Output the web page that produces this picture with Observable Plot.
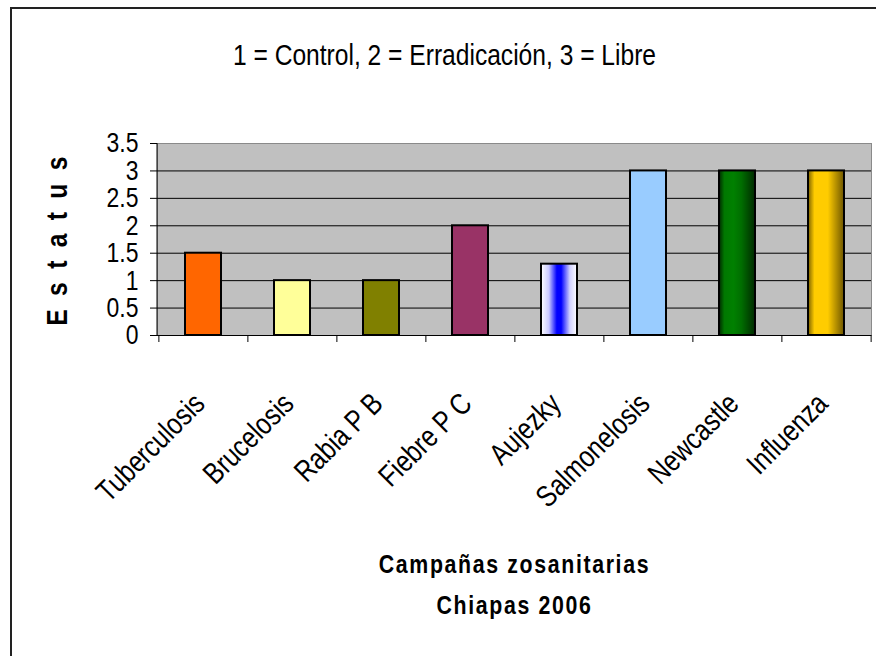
<!DOCTYPE html>
<html><head><meta charset="utf-8">
<script src="https://cdn.jsdelivr.net/npm/d3@7"></script>
<script src="https://cdn.jsdelivr.net/npm/@observablehq/plot@0.6"></script>
<style>
html,body{margin:0;padding:0;background:#fff;overflow:hidden;}
#wrap{position:relative;width:876px;height:656px;overflow:hidden;}
#wrap svg{position:absolute;left:0;top:0;}
#border{position:absolute;left:10px;top:7px;width:900px;height:700px;border:2px solid #222;pointer-events:none;}
.ylab text{letter-spacing:4px;}
.xtitle text{letter-spacing:2px;}
</style></head><body><div id="wrap"></div>
<script>
const categories = ["Tuberculosis","Brucelosis","Rabia P B","Fiebre P C","Aujezky","Salmonelosis","Newcastle","Influenza"];
const values = [1.5, 1, 1, 2, 1.3, 3, 3, 3];
const barFills = ["#FF6600","#FFFF99","#808000","#993366","url(#gAujezky)","#99CCFF","url(#gNewcastle)","url(#gInfluenza)"];
const yTicks = [0, 0.5, 1, 1.5, 2, 2.5, 3, 3.5];
const yTickLabels = ["0","0.5","1","1.5","2","2.5","3","3.5"];
const titleText = "1 = Control, 2 = Erradicación, 3 = Libre";
const yLabel = "E s t a t u s";
const xTitle = ["Campañas zosanitarias", "Chiapas 2006"];

// gradient styles (cylinder-like fills)
const gradientStyles = [
  {id: "gAujezky", stops: [[0,"#ffffff"],[0.22,"#c8c8ff"],[0.44,"#0000ff"],[0.56,"#0000ff"],[0.8,"#d0d0ff"],[1,"#ffffff"]]},
  {id: "gNewcastle", stops: [[0,"#002800"],[0.15,"#007800"],[0.4,"#008000"],[0.62,"#006e00"],[1,"#002a00"]]},
  {id: "gInfluenza", stops: [[0,"#7a6000"],[0.18,"#ffcc00"],[0.55,"#ffcc00"],[1,"#6e5600"]]}
];

const W = 876, H = 656, mL = 157, mR = 5, mT = 143, mB = 321;
const step = (W - mL - mR) / categories.length;
const FONT = "'Liberation Sans',Arial,sans-serif";
const NARROW = 0.82; // emulate Arial Narrow
const ns = "http://www.w3.org/2000/svg";

const data = categories.map((c, i) => ({name: c, value: values[i], fill: barFills[i]}));

function gradientDefs() {
  const defs = document.createElementNS(ns, "defs");
  for (const g of gradientStyles) {
    const lg = document.createElementNS(ns, "linearGradient");
    lg.setAttribute("id", g.id);
    lg.setAttribute("x1", "0"); lg.setAttribute("x2", "1");
    lg.setAttribute("y1", "0"); lg.setAttribute("y2", "0");
    for (const [o, c] of g.stops) {
      const s = document.createElementNS(ns, "stop");
      s.setAttribute("offset", o);
      s.setAttribute("stop-color", c);
      lg.appendChild(s);
    }
    defs.appendChild(lg);
  }
  return defs;
}

function leftAxisLine(index, scales, vals, dims) {
  const l = document.createElementNS(ns, "line");
  const x = dims.marginLeft;
  l.setAttribute("x1", x); l.setAttribute("x2", x);
  l.setAttribute("y1", scales.y(d3.max(yTicks)));
  l.setAttribute("y2", scales.y(0));
  l.setAttribute("stroke", "black");
  l.setAttribute("stroke-width", 1);
  return l;
}

const plot = Plot.plot({
  width: W, height: H,
  marginLeft: mL, marginRight: mR, marginTop: mT, marginBottom: mB,
  style: {fontFamily: FONT, color: "black", background: "transparent"},
  x: {type: "band", domain: categories, paddingInner: 0.6, paddingOuter: 0.3, label: null},
  y: {domain: [0, 3.5], label: null},
  color: {type: "identity"},
  marks: [
    gradientDefs,
    Plot.frame({fill: "#C0C0C0", stroke: "#8a8a8a"}),
    Plot.gridY(yTicks.filter(t => t < 3.5), {stroke: "black", strokeOpacity: 1, strokeWidth: 1}),
    Plot.barY(data, {x: "name", y: "value", fill: "fill", stroke: "black", strokeWidth: 2}),
    leftAxisLine,
    Plot.axisY(yTicks, {tickSize: 7, tickPadding: 12, fontSize: 28, label: null,
      tickFormat: d => yTickLabels[yTicks.indexOf(d)]}),
    Plot.axisX(categories, {tickSize: 7, tickFormat: () => "", dx: -step / 2, label: null}),
    Plot.axisX(categories.slice(-1), {tickSize: 7, tickFormat: () => "", dx: step / 2, label: null}),
    Plot.text(categories, {x: d => d, frameAnchor: "bottom", rotate: -45, textAnchor: "end",
      lineAnchor: "bottom", dx: 3, dy: 70, fontSize: 30}),
    Plot.text([titleText], {frameAnchor: "top", dx: -70, dy: -79, lineAnchor: "bottom", fontSize: 30}),
    Plot.text([yLabel], {frameAnchor: "left", rotate: -90, textAnchor: "middle", dx: -100, fontSize: 30,
      fontWeight: "bold", className: "ylab"}),
    Plot.text([xTitle.join("\n")], {frameAnchor: "bottom", dy: 278, lineAnchor: "bottom", lineHeight: 1.54,
      fontSize: 26, fontWeight: "bold", className: "xtitle"})
  ]
});

// condense every text horizontally (along its own direction), like Arial Narrow
for (const t of plot.querySelectorAll("text")) {
  const tr = t.getAttribute("transform") || "";
  t.setAttribute("transform", (tr + ` scale(${NARROW},1)`).trim());
}

const wrap = document.getElementById("wrap");
wrap.appendChild(plot);
const b = document.createElement("div"); b.id = "border"; wrap.appendChild(b);
</script></body></html>
